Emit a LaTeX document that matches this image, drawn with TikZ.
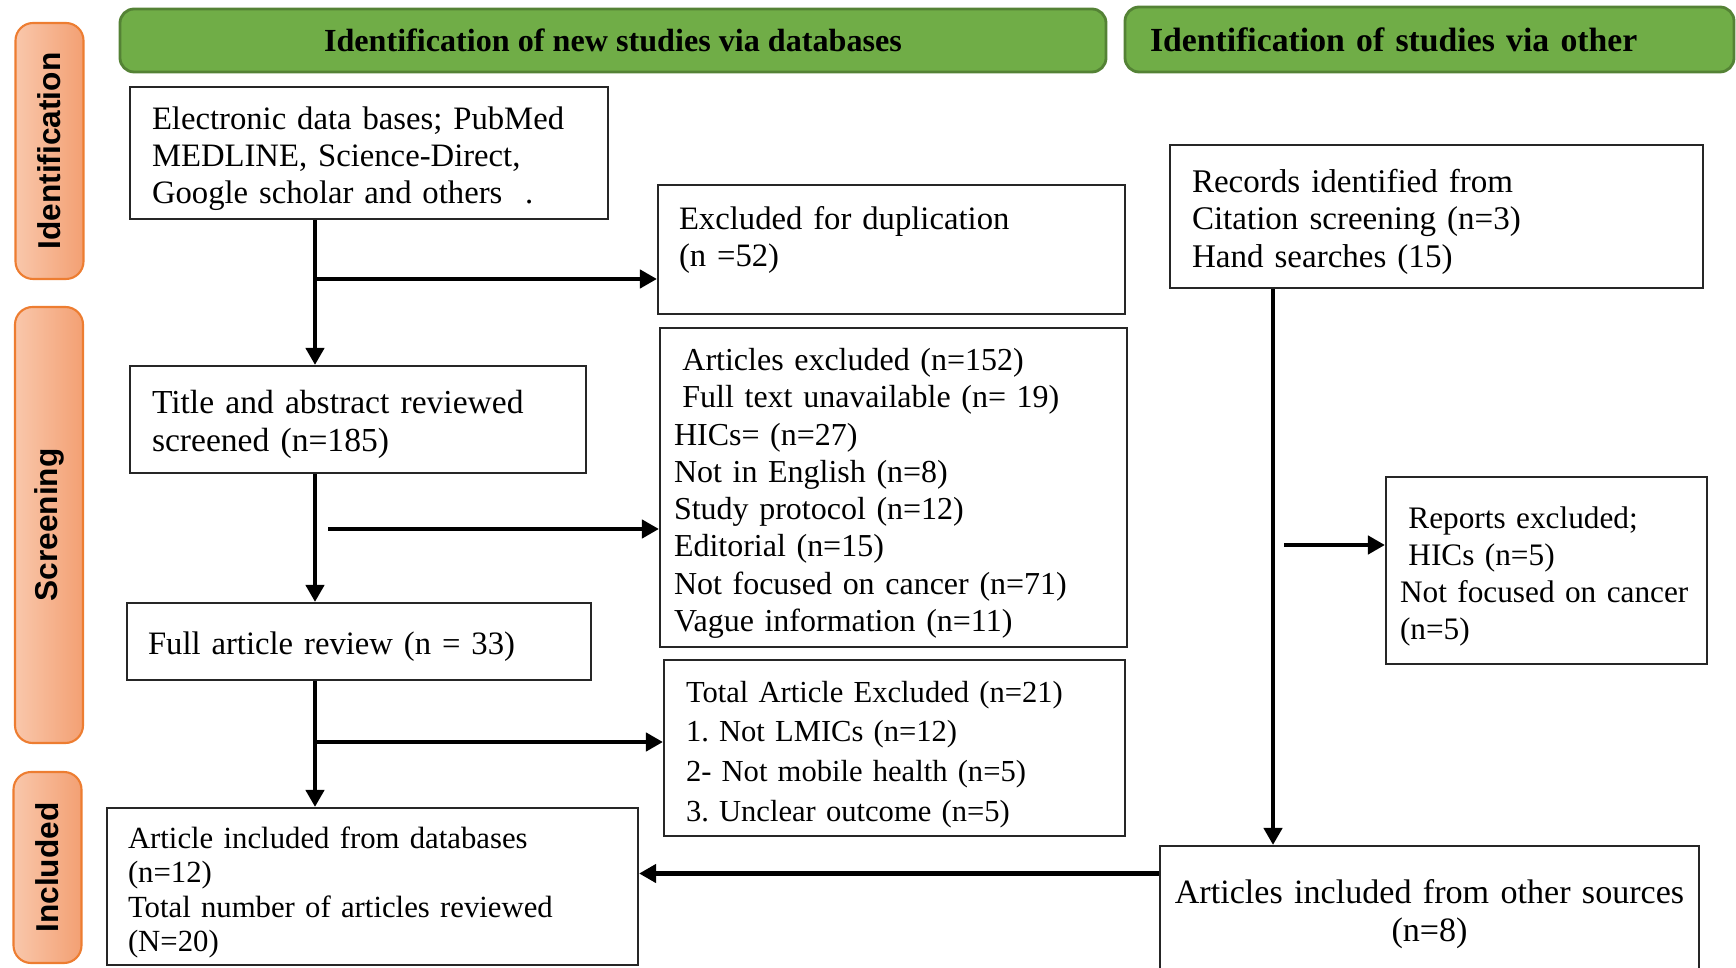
\documentclass[tikz,border=0pt]{standalone}
\usepackage{fontspec}
\setmainfont{Liberation Serif}
\setsansfont{Liberation Sans}
\usepackage{graphicx}
\usetikzlibrary{arrows.meta}
\frenchspacing
\definecolor{hdrgreen}{HTML}{70AD47}
\definecolor{hdrline}{HTML}{548235}
\definecolor{stagelight}{HTML}{F9C7AB}
\definecolor{stagedark}{HTML}{F3A073}
\definecolor{stageline}{HTML}{ED7D31}

\begin{document}
\begin{tikzpicture}[
  every node/.style={font=\fontsize{9.3}{10.6}\selectfont},
  box/.style={draw=black!85, line width=0.6pt, align=left, inner ysep=0pt, text height=9.6pt},
  header/.style={draw=hdrline, line width=0.8pt, fill=hdrgreen, rounded corners=4pt},
  stage/.style={draw=stageline, line width=0.6pt, left color=stagelight, right color=stagedark,
    rounded corners=5pt, minimum width=0.68cm, inner sep=0pt,
    font=\fontsize{9}{10}\selectfont\sffamily\bfseries},
  arr/.style={-{Triangle[length=1.7mm,width=1.8mm]}, line width=1.3pt}]
  \useasboundingbox (0,0) rectangle (17.36,9.67);
  \clip (0,0) rectangle (17.36,9.67);
  % stage labels
  \node[stage, minimum height=2.56cm] (sid) at (0.495,8.16) {\rotatebox{90}{Identification}};
  \node[stage, minimum height=4.36cm] (sscr) at (0.49,4.42) {\rotatebox{90}{Screening}};
  \node[stage, minimum height=1.91cm] (sinc) at (0.475,0.995) {\rotatebox{90}{Included}};
  % column headers
  \node[header, minimum width=9.86cm, minimum height=0.63cm,
    font=\fontsize{9.15}{11}\selectfont\bfseries] (hdb) at (6.13,9.265)
    {Identification of new studies via databases};
  \node[header, minimum height=0.65cm, text width=5.59cm, inner xsep=0.25cm, align=left,
    font=\fontsize{9.6}{11}\selectfont\bfseries] (hot) at (14.295,9.275)
    {Identification of studies via other};
  % databases column
  \node[box, text width=4.34cm, inner xsep=0.22cm, minimum height=1.32cm] (db) at (3.69,8.14)
    {Electronic data bases; PubMed\\ MEDLINE, Science-Direct,\\ Google scholar and others\hspace{0.7em}.};
  \node[box, text width=4.25cm, inner xsep=0.21cm, minimum height=1.29cm] (dup) at (8.915,7.175)
    {Excluded for duplication\\ (n =52)\\ \mbox{}};
  \node[box, text width=4.12cm, inner xsep=0.22cm, minimum height=1.07cm,
    font=\fontsize{9.55}{10.9}\selectfont] (title) at (3.58,5.475)
    {Title and abstract reviewed\\ screened (n=185)};
  \node[box, text width=4.39cm, inner xsep=0.14cm, minimum height=3.19cm,
    font=\fontsize{9.1}{10.6}\selectfont] (excl) at (8.935,4.795)
    {\hspace*{2.4pt}Articles excluded (n=152)\\ \hspace*{2.4pt}Full text unavailable (n= 19)\\
     HICs= (n=27)\\ Not in English (n=8)\\ Study protocol (n=12)\\ Editorial (n=15)\\
     Not focused on cancer (n=71)\\ Vague information (n=11)};
  \node[box, text width=4.22cm, inner xsep=0.21cm, minimum height=0.77cm] (full) at (3.59,3.255)
    {Full article review (n = 33)};
  \node[box, text width=4.17cm, inner xsep=0.22cm, minimum height=1.76cm,
    font=\fontsize{8.7}{11.3}\selectfont] (total) at (8.945,2.19)
    {Total Article Excluded (n=21)\\ 1. Not LMICs (n=12)\\ 2- Not mobile health (n=5)\\ 3. Unclear outcome (n=5)};
  \node[box, text width=4.89cm, inner xsep=0.21cm, minimum height=1.57cm,
    font=\fontsize{8.75}{9.8}\selectfont] (incdb) at (3.725,0.805)
    {Article included from databases\\ (n=12)\\ Total number of articles reviewed\\ (N=20)};
  % other sources column
  \node[box, text width=4.89cm, inner xsep=0.22cm, minimum height=1.43cm,
    font=\fontsize{9.4}{10.6}\selectfont] (rec) at (14.365,7.505)
    {Records identified from\\ Citation screening (n=3)\\ Hand searches (15)};
  \node[box, text width=2.93cm, inner xsep=0.14cm, minimum height=1.87cm,
    font=\fontsize{8.9}{10.6}\selectfont] (rep) at (15.465,3.965)
    {\hspace*{2.4pt}Reports excluded;\\ \hspace*{2.4pt}HICs (n=5)\\ Not focused on cancer\\ (n=5)};
  \node[box, align=center, text width=5.2cm, inner xsep=0.095cm, minimum height=1.27cm,
    font=\fontsize{9.7}{10.8}\selectfont] (incot) at (14.295,0.575)
    {Articles included from other sources\\ (n=8)};
  % trunks and branches
  \coordinate (tdb) at (3.15,0);
  \coordinate (tot) at (12.73,0);
  \coordinate (bdup) at (3.15,6.88);
  \coordinate (bexcl) at (3.28,4.38);
  \coordinate (btot) at (3.15,2.25);
  \coordinate (brep) at (12.84,4.22);
  \coordinate (bjoin) at (0,0.935);
  \draw[arr] (db.south -| tdb) -- (title.north -| tdb);
  \draw[arr] (bdup) -- (bdup -| dup.west);
  \draw[arr] (title.south -| tdb) -- (full.north -| tdb);
  \draw[arr] (bexcl) -- (bexcl -| excl.west);
  \draw[arr] (full.south -| tdb) -- (incdb.north -| tdb);
  \draw[arr] (btot) -- (btot -| total.west);
  \draw[arr] (rec.south -| tot) -- (incot.north -| tot);
  \draw[arr] (brep) -- (brep -| rep.west);
  \draw[arr] (incot.west |- bjoin) -- (incdb.east |- bjoin);
\end{tikzpicture}
\end{document}
